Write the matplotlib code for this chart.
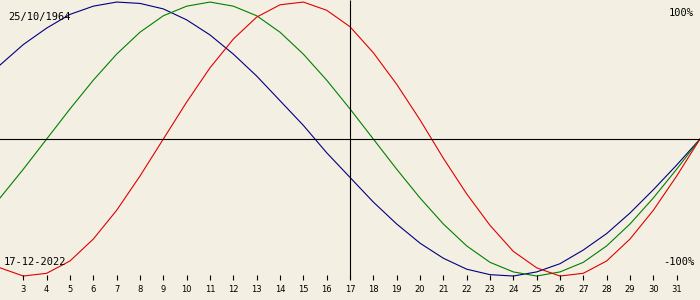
import matplotlib
matplotlib.use("Agg")
import matplotlib.pyplot as plt
import matplotlib.transforms as mtransforms

# days shown on the chart (first and last are off-tick edges)
days = list(range(2, 33))
tick_days = list(range(3, 32))
today = 17

# biorhythm values in percent (one value per day)
physical = [-94, -100, -98, -89, -73, -52, -27, 0, 27, 52, 73, 89, 98, 100, 94,
            82, 63, 40, 14, -14, -40, -63, -82, -94, -100, -98, -89, -73, -52,
            -27, 0]
emotional = [-43, -22, 0, 22, 43, 62, 78, 90, 97, 100, 97, 90, 78, 62, 43,
             22, 0, -22, -43, -62, -78, -90, -97, -100, -97, -90, -78, -62,
             -43, -22, 0]
intellectual = [54, 69, 81, 91, 97, 100, 99, 95, 87, 76, 62, 46, 28, 10, -10,
                -28, -46, -62, -76, -87, -95, -99, -100, -97, -91, -81, -69,
                -54, -37, -19, 0]

birth_label = "25/10/1964"
date_label = "17-12-2022"

bg = "#f3efe3"
fig = plt.figure(figsize=(7, 3), dpi=100, facecolor=bg)
ax = fig.add_axes([0, 0, 1, 1])
ax.set_facecolor(bg)
ax.set_xlim(2, 32)
ax.set_ylim(-117.5, 101.5)
ax.axis("off")

lw = 0.8
ax.plot(days, intellectual, color="#000080", lw=lw)
ax.plot(days, emotional, color="#008000", lw=lw)
ax.plot(days, physical, color="#e00000", lw=lw)

ax.axhline(0, color="black", lw=lw)

# x in data, y in axes coords
trans = mtransforms.blended_transform_factory(ax.transData, ax.transAxes)
ax.vlines([today], 1 - 278 / 300, 1, color="black", lw=lw, transform=trans)
ax.vlines(tick_days, 1 - 280 / 300, 1 - 275 / 300, color="black", lw=lw,
          transform=trans)
for d in tick_days:
    ax.text(d, 1 - 289 / 300, str(d), transform=trans, ha="center",
            va="center", fontsize=6, family="DejaVu Sans")

mono = dict(family="DejaVu Sans Mono", fontsize=7.5, color="black")
ax.text(8 / 700, 1 - 17 / 300, birth_label, transform=ax.transAxes,
        ha="left", va="center", **mono)
ax.text(4 / 700, 1 - 262 / 300, date_label, transform=ax.transAxes,
        ha="left", va="center", **mono)
ax.text(694 / 700, 1 - 13 / 300, "100%", transform=ax.transAxes,
        ha="right", va="center", **mono)
ax.text(694 / 700, 1 - 262 / 300, "-100%", transform=ax.transAxes,
        ha="right", va="center", **mono)

fig.savefig("out.png", dpi=100, facecolor=bg)
